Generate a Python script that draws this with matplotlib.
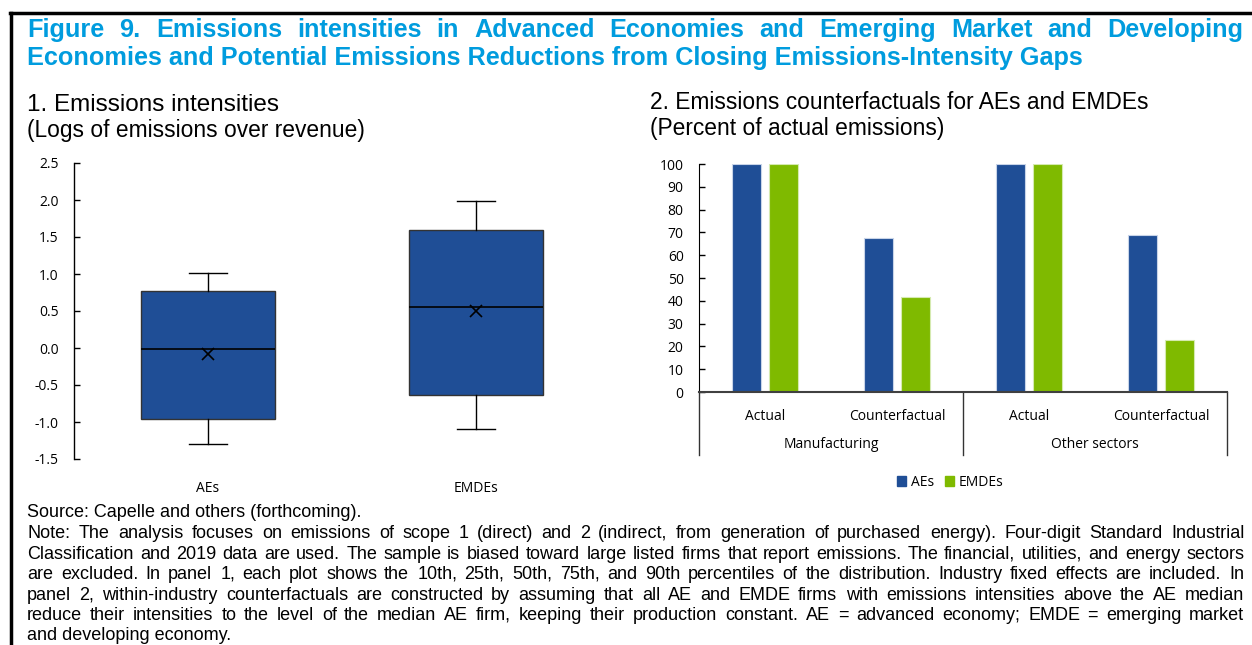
import matplotlib
matplotlib.use('Agg')
import matplotlib.pyplot as plt
from matplotlib.patches import Patch

# Panel 1: box plot stats (10th, 25th, 50th, 75th, 90th percentiles and mean)
box_groups = ['AEs', 'EMDEs']
p10 = [-1.30, -1.10]
p25 = [-0.96, -0.63]
p50 = [-0.02, 0.56]
p75 = [0.77, 1.59]
p90 = [1.02, 1.98]
means = [-0.08, 0.50]

# Panel 2: counterfactuals
bar_cats = ['Actual', 'Counterfactual', 'Actual', 'Counterfactual']
sectors = ['Manufacturing', 'Other sectors']
aes_vals = [100, 67.5, 100, 68.7]
emdes_vals = [100, 41.5, 100, 22.7]

W, H = 1252, 645
BLUE = '#1F4E96'
GREEN = '#7FBA00'
TITLE_C = '#009CDE'
TICK_FONT = 'Open Sans'
TICK_SIZE = 10

fig = plt.figure(figsize=(W / 100, H / 100), dpi=100)
renderer = fig.canvas.get_renderer()


def fx(x):
    return x / W


def fy(y):
    return 1 - y / H


def justify(line, x0, x1, y, **kw):
    # place words one by one so the line fills x0..x1 (pixel coords)
    words = line.split()
    texts = [fig.text(0, 0, w, va='baseline', ha='left', transform=None, **kw) for w in words]
    widths = [t.get_window_extent(renderer).width for t in texts]
    gap = (x1 - x0 - sum(widths)) / max(len(words) - 1, 1)
    x = x0
    for t, w in zip(texts, widths):
        t.set_position((round(x) + 0.25, H - y + 0.25))
        x += w + gap


# frame lines (top and left)
fig.add_artist(plt.Line2D([fx(10), fx(W)], [fy(13), fy(13)], color='black', lw=2.5))
fig.add_artist(plt.Line2D([fx(11), fx(11)], [fy(13), 0], color='black', lw=2.5))

# title
tkw = dict(family='Liberation Sans', fontweight='bold', fontsize=18.2, color=TITLE_C)
justify('Figure 9. Emissions intensities in Advanced Economies and Emerging Market and Developing',
        27, 1243, 37, **tkw)
fig.text(fx(27), fy(65), 'Economies and Potential Emissions Reductions from Closing Emissions-Intensity Gaps',
         va='baseline', **tkw)

skw = dict(family='Liberation Sans', va='baseline')
fig.text(fx(27), fy(111), '1. Emissions intensities', fontsize=17.5, **skw)
fig.text(fx(27), fy(137), '(Logs of emissions over revenue)', fontsize=16.4, **skw)
fig.text(fx(650), fy(109), '2. Emissions counterfactuals for AEs and EMDEs', fontsize=16.4, **skw)
fig.text(fx(650), fy(135), '(Percent of actual emissions)', fontsize=16.4, **skw)

# ---- panel 1: box plot
ax1 = fig.add_axes([fx(74), fy(459), (610 - 74) / W, (459 - 163) / H])
stats = []
for i, g in enumerate(box_groups):
    stats.append(dict(label=g, whislo=p10[i], q1=p25[i], med=p50[i], q3=p75[i],
                      whishi=p90[i], mean=means[i], fliers=[]))
ax1.bxp(stats, positions=[1, 2], widths=0.5, patch_artist=True, showmeans=True,
        showfliers=False,
        boxprops=dict(facecolor=BLUE, edgecolor='#333333', lw=1),
        medianprops=dict(color='black', lw=1.2),
        whiskerprops=dict(color='black', lw=1),
        capprops=dict(color='black', lw=1),
        capwidths=0.145,
        meanprops=dict(marker='x', markeredgecolor='black', markersize=8, markeredgewidth=1.2))
ax1.set_xlim(0.5, 2.5)
ax1.set_ylim(-1.5, 2.5)
ax1.set_yticks([-1.5, -1.0, -0.5, 0.0, 0.5, 1.0, 1.5, 2.0, 2.5])
ax1.set_yticklabels(['%.1f' % v for v in ax1.get_yticks()], family=TICK_FONT, fontsize=TICK_SIZE)
ax1.set_xticklabels(box_groups, family=TICK_FONT, fontsize=TICK_SIZE)
ax1.tick_params(axis='y', direction='in', length=4, pad=11, width=1)
ax1.tick_params(axis='x', length=0, pad=16)
for s in ['top', 'right', 'bottom']:
    ax1.spines[s].set_visible(False)
ax1.spines['left'].set_linewidth(1)

# ---- panel 2: grouped bars
ax2 = fig.add_axes([fx(699), fy(392), (1227 - 699) / W, (392 - 164) / H])
xs = list(range(len(bar_cats)))
off, bw = 0.14, 0.22
ax2.bar([x - off for x in xs], aes_vals, width=bw, color=BLUE, edgecolor='#c8d4e8', lw=0.8)
ax2.bar([x + off for x in xs], emdes_vals, width=bw, color=GREEN, edgecolor='#d5eab0', lw=0.8)
ax2.set_xlim(-0.5, 3.5)
ax2.set_ylim(0, 100)
ax2.set_yticks(range(0, 101, 10))
ax2.set_yticklabels([str(v) for v in range(0, 101, 10)], family=TICK_FONT, fontsize=TICK_SIZE)
ax2.set_xticks(xs)
ax2.set_xticklabels(bar_cats, family=TICK_FONT, fontsize=TICK_SIZE)
ax2.tick_params(axis='y', direction='in', length=4, pad=11, width=1)
ax2.tick_params(axis='x', length=0, pad=12)
for s in ['top', 'right']:
    ax2.spines[s].set_visible(False)
ax2.spines['bottom'].set_color('#404040')
ax2.spines['bottom'].set_linewidth(1.5)
trans = ax2.get_xaxis_transform()
drop = -(455 - 392) / (392 - 164)
for xv in [-0.5, 1.5, 3.5]:
    ax2.plot([xv, xv], [0, drop], transform=trans, color='#333333', lw=1, clip_on=False)
for j, sname in enumerate(sectors):
    ax2.text(2 * j + 0.5, -(445 - 392) / (392 - 164), sname, transform=trans,
             ha='center', va='center', family=TICK_FONT, fontsize=TICK_SIZE)

handles = [Patch(color=BLUE, label='AEs'), Patch(color=GREEN, label='EMDEs')]
fig.legend(handles=handles, loc='center', bbox_to_anchor=(fx(950), fy(482)), ncol=2,
           frameon=False, handlelength=0.7, handleheight=0.7, handletextpad=0.3,
           columnspacing=0.8, prop=dict(family=TICK_FONT, size=TICK_SIZE))

# ---- notes
nkw = dict(family='Liberation Sans', fontsize=13, color='black')
fig.text(fx(27), fy(517), 'Source: Capelle and others (forthcoming).', va='baseline', **nkw)
note_lines = [
    'Note: The analysis focuses on emissions of scope 1 (direct) and 2 (indirect, from generation of purchased energy). Four-digit Standard Industrial',
    'Classification and 2019 data are used. The sample is biased toward large listed firms that report emissions. The financial, utilities, and energy sectors',
    'are excluded. In panel 1, each plot shows the 10th, 25th, 50th, 75th, and 90th percentiles of the distribution. Industry fixed effects are included. In',
    'panel 2, within-industry counterfactuals are constructed by assuming that all AE and EMDE firms with emissions intensities above the AE median',
    'reduce their intensities to the level of the median AE firm, keeping their production constant. AE = advanced economy; EMDE = emerging market',
]
note_y = [538, 559, 579, 600, 620]
for line, yb in zip(note_lines, note_y):
    justify(line, 27, 1244, yb, **nkw)
fig.text(fx(27), fy(640), 'and developing economy.', va='baseline', **nkw)

fig.savefig('out.png', dpi=100)
